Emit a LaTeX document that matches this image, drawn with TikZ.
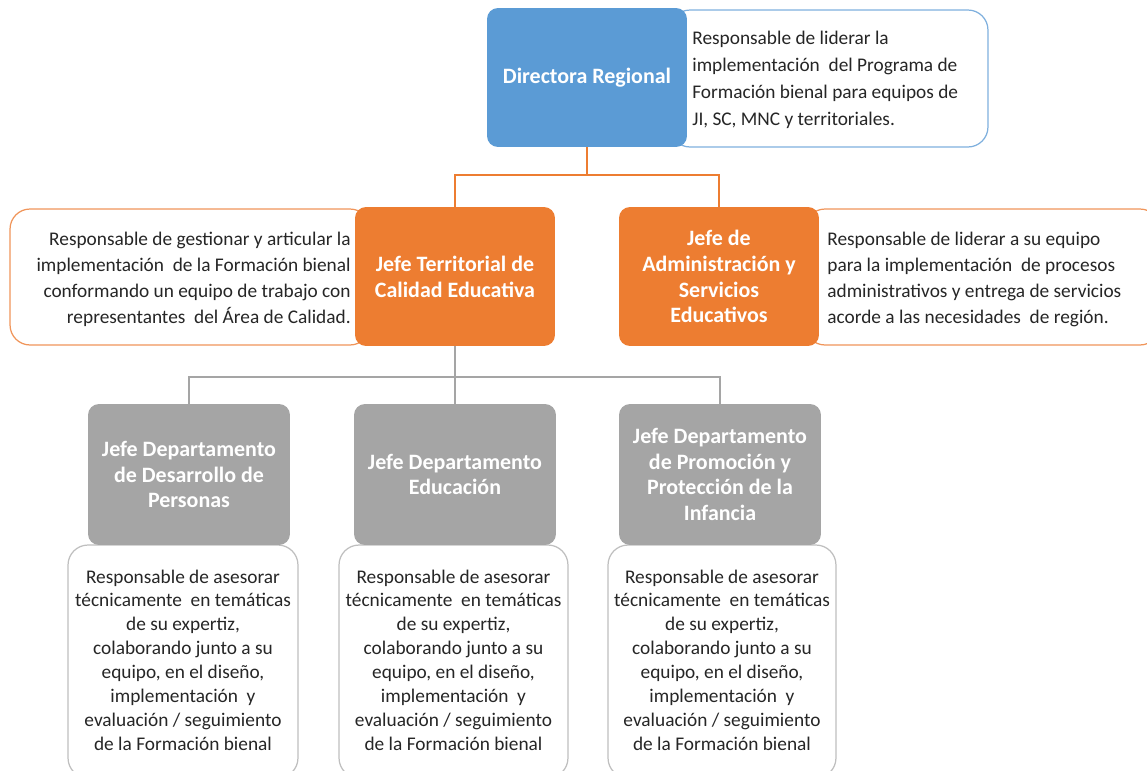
\documentclass[tikz,border=0pt]{standalone}
\usepackage{fontspec}
\setmainfont{Carlito}
\definecolor{cblue}{HTML}{5B9BD5}
\definecolor{corange}{HTML}{ED7D31}
\definecolor{cgray}{HTML}{A5A5A5}
\definecolor{ctext}{HTML}{262626}
\definecolor{lblue}{HTML}{7FB0DE}
\definecolor{lorange}{HTML}{F0955A}
\definecolor{lgray}{HTML}{BFBFBF}
\begin{document}
\begin{tikzpicture}[x=0.02cm,y=-0.02cm,
  head/.style={rounded corners=0.22cm, inner sep=0pt, text=white, align=center,
    font=\fontsize{12.5}{14.7}\selectfont\bfseries},
  desc/.style={rounded corners=0.4cm, fill=white, line width=0.7pt, inner sep=0pt},
  dtext/.style={inner sep=0pt, text=ctext, font=\fontsize{11}{15.3}\selectfont},
  btext/.style={inner sep=0pt, text=ctext, align=center, font=\fontsize{11}{13.6}\selectfont},
  oline/.style={draw=corange, line width=0.8pt},
  gline/.style={draw=cgray, line width=0.8pt}]
\useasboundingbox (0,0) rectangle (1147,771);
\clip (0,0) rectangle (1147,771);
% description boxes (behind)
\node[desc, draw=lblue, minimum width=6.36cm, minimum height=2.74cm] (d0) at (829,78.5) {};
\node[desc, draw=lorange, minimum width=7.2cm, minimum height=2.72cm] (d1) at (190,277) {};
\node[desc, draw=lorange, minimum width=7.1cm, minimum height=2.72cm] (d2) at (982.5,277) {};
\node[desc, draw=lgray, minimum width=4.6cm, minimum height=4.66cm] (d3) at (183,661.5) {};
\node[desc, draw=lgray, minimum width=4.58cm, minimum height=4.66cm] (d4) at (453.5,661.5) {};
\node[desc, draw=lgray, minimum width=4.56cm, minimum height=4.66cm] (d5) at (722,661.5) {};
% connectors
\coordinate (j1) at (587,175);
\coordinate (j2) at (455,377);
% heads
\node[head, fill=cblue, minimum width=4cm, minimum height=2.78cm] (dir) at (587,77.5) {Directora Regional};
\node[head, fill=corange, minimum width=4cm, minimum height=2.78cm] (jt) at (455,276.5) {Jefe Territorial de\\Calidad Educativa};
\node[head, fill=corange, minimum width=4cm, minimum height=2.78cm] (ja) at (719,276.5) {Jefe de\\Administración y\\Servicios\\Educativos};
\node[head, fill=cgray, minimum width=4.04cm, minimum height=2.82cm] (g1) at (189,474.5) {Jefe Departamento\\de Desarrollo de\\Personas};
\node[head, fill=cgray, minimum width=4.04cm, minimum height=2.82cm] (g2) at (455,474.5) {Jefe Departamento\\Educación};
\node[head, fill=cgray, minimum width=4.04cm, minimum height=2.82cm] (g3) at (720,474.5) {Jefe Departamento\\de Promoción y\\Protección de la\\Infancia};
\draw[oline] (dir.south) -- (j1) -| (jt.north);
\draw[oline] (j1) -| (ja.north);
\draw[gline] (jt.south) -- (j2) -| (g1.north);
\draw[gline] (j2) -- (g2.north);
\draw[gline] (j2) -| (g3.north);
% description texts
\node[dtext, anchor=west, align=left] (t0) at (692,80) {Responsable de liderar la\\implementación\ \ del Programa de\\Formación bienal para equipos de\\JI, SC, MNC y territoriales.};
\node[dtext, anchor=east, align=right, font=\fontsize{11}{14.7}\selectfont] (t1) at (351,279.5) {Responsable de gestionar y articular la\\implementación\ \ de la Formación bienal\\conformando un equipo de trabajo con\\representantes\ \ del Área de Calidad.};
\node[dtext, anchor=west, align=left, font=\fontsize{11}{14.7}\selectfont] (t2) at (827,279.5) {Responsable de liderar a su equipo\\para la implementación\ \ de procesos\\administrativos y entrega de servicios\\acorde a las necesidades\ \ de región.};
\node[btext] (t3) at (183,660) {Responsable de asesorar\\técnicamente\ \ en temáticas\\de su expertiz,\\colaborando junto a su\\equipo, en el diseño,\\implementación\ \ y\\evaluación / seguimiento\\de la Formación bienal};
\node[btext] (t4) at (453.5,660) {Responsable de asesorar\\técnicamente\ \ en temáticas\\de su expertiz,\\colaborando junto a su\\equipo, en el diseño,\\implementación\ \ y\\evaluación / seguimiento\\de la Formación bienal};
\node[btext] (t5) at (722,660) {Responsable de asesorar\\técnicamente\ \ en temáticas\\de su expertiz,\\colaborando junto a su\\equipo, en el diseño,\\implementación\ \ y\\evaluación / seguimiento\\de la Formación bienal};
\end{tikzpicture}
\end{document}
